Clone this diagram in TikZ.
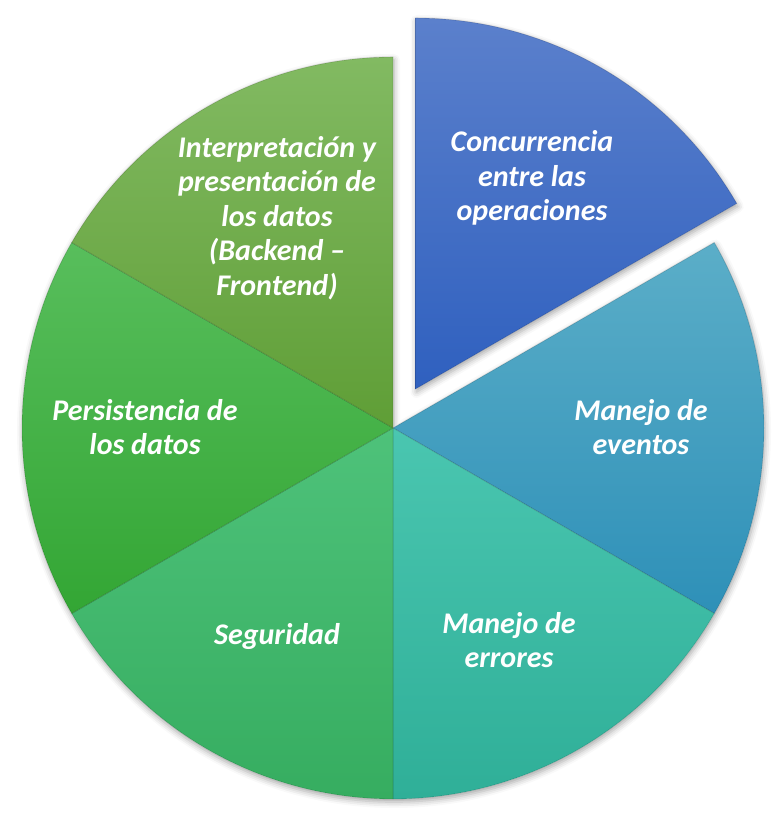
\documentclass[tikz,border=0pt]{standalone}
\usepackage{fontspec}
\setmainfont{Carlito}
\usetikzlibrary{shadows.blur}
\definecolor{cA1}{HTML}{5B80CC}\definecolor{cA2}{HTML}{2F60BF}
\definecolor{cB1}{HTML}{5BAEC8}\definecolor{cB2}{HTML}{2E90B8}
\definecolor{cC1}{HTML}{4AC6B0}\definecolor{cC2}{HTML}{2FAF98}
\definecolor{cD1}{HTML}{4EC27A}\definecolor{cD2}{HTML}{36AD60}
\definecolor{cE1}{HTML}{58BE5C}\definecolor{cE2}{HTML}{33A634}
\definecolor{cF1}{HTML}{82BA62}\definecolor{cF2}{HTML}{5F9E36}
\tikzset{
  shadowed/.style={fill=white,blur shadow={shadow xshift=1pt,shadow yshift=-3pt,shadow blur radius=6pt,shadow opacity=35}},
  edge/.style={draw=black,draw opacity=0.15,line width=0.8pt},
  lbl/.style={text=white,align=center,font=\fontsize{30}{34.5}\selectfont\bfseries\itshape,inner sep=0pt}
}
\begin{document}
\begin{tikzpicture}[x=1pt,y=1pt]
\useasboundingbox (0,0) rectangle (783,816);
\def\R{371}
\coordinate (c) at (393,388);
\coordinate (ce) at (415.5,427);
% shadows
\path[shadowed] (c) -- ++(90:\R) arc[start angle=90,end angle=390,radius=\R] -- cycle;
\path[shadowed] (ce) -- ++(30:\R) arc[start angle=30,end angle=90,radius=\R] -- cycle;
% slices
\path[top color=cB1,bottom color=cB2,edge] (c) -- ++(-30:\R) arc[start angle=-30,end angle=30,radius=\R] -- cycle;
\path[top color=cC1,bottom color=cC2,edge] (c) -- ++(270:\R) arc[start angle=270,end angle=330,radius=\R] -- cycle;
\path[top color=cD1,bottom color=cD2,edge] (c) -- ++(210:\R) arc[start angle=210,end angle=270,radius=\R] -- cycle;
\path[top color=cE1,bottom color=cE2,edge] (c) -- ++(150:\R) arc[start angle=150,end angle=210,radius=\R] -- cycle;
\path[top color=cF1,bottom color=cF2,edge] (c) -- ++(90:\R) arc[start angle=90,end angle=150,radius=\R] -- cycle;
\path[top color=cA1,bottom color=cA2,edge] (ce) -- ++(30:\R) arc[start angle=30,end angle=90,radius=\R] -- cycle;
% labels
\node[lbl] (concurrencia) at (532,638) {Concurrencia\\entre las\\operaciones};
\node[lbl] (eventos) at (641,389) {Manejo de\\eventos};
\node[lbl] (errores) at (509,176) {Manejo de\\errores};
\node[lbl] (seguridad) at (277,179) {Seguridad};
\node[lbl] (persistencia) at (145,389) {Persistencia de\\los datos};
\node[lbl] (interpretacion) at (277,598) {Interpretación y\\presentación de\\los datos\\(Backend –\\Frontend)};
\end{tikzpicture}
\end{document}
